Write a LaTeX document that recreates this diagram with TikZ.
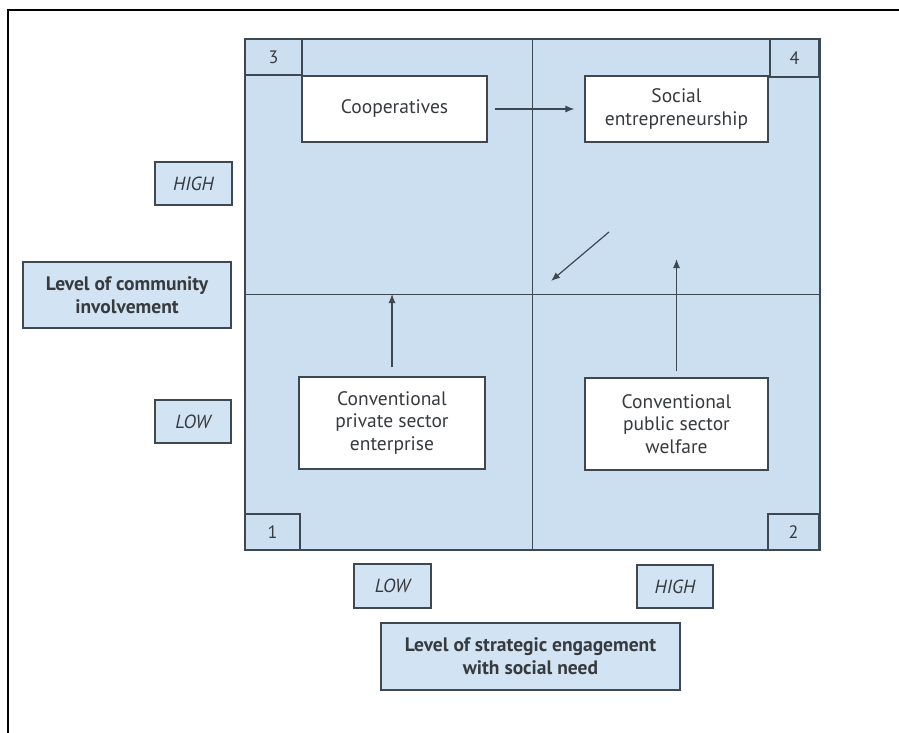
\documentclass[tikz,border=0pt]{standalone}
\usepackage{fontspec}
\setmainfont{PT Sans}
\usepackage{tikz}
\usetikzlibrary{positioning, arrows.meta, calc}
\definecolor{paleblue}{RGB}{203,223,240}
\definecolor{tagblue}{RGB}{210,228,243}
\definecolor{inkgrey}{RGB}{62,72,82}
\definecolor{txtgrey}{RGB}{55,58,62}
\tikzset{
  quadbox/.style={
    draw=inkgrey,
    line width=1.2pt,
    rectangle,
    fill=white,
    align=center,
    text=txtgrey,
    font=\fontsize{19.5}{22.5}\selectfont,
    inner sep=0pt
  },
  tagbox/.style={
    draw=inkgrey,
    line width=1.2pt,
    rectangle,
    fill=tagblue,
    align=center,
    text=txtgrey,
    font=\fontsize{19}{22.5}\selectfont\itshape,
    inner sep=0pt
  },
  titlebox/.style={
    tagbox,
    font=\fontsize{19.5}{23}\selectfont\bfseries
  },
  numbox/.style={
    draw=inkgrey,
    line width=1.2pt,
    rectangle,
    fill=paleblue,
    text=txtgrey,
    font=\fontsize{18}{20}\selectfont,
    inner sep=0pt
  },
  flow/.style={
    draw=inkgrey,
    line width=1.2pt,
    -{Latex[length=9pt,width=7pt]}
  }
}

\begin{document}
\begin{tikzpicture}[x=1pt, y=-1pt]
        \useasboundingbox (0,0) rectangle (899,733);
        \draw[line width=2pt] (8,733) -- (8,10) -- (899,10);

        % the four quadrants
        \node[draw=inkgrey, line width=1.2pt, fill=paleblue, minimum width=575pt, minimum height=511pt] (grid) at (532.5,294.5) {};
        \draw[inkgrey, line width=1.2pt] (grid.north) -- (grid.south);
        \draw[inkgrey, line width=1.2pt] (grid.west) -- (grid.east);

        \node[numbox, minimum width=57pt, minimum height=36pt] (n3) at (273.5,57) {3};
        \node[numbox, minimum width=49pt, minimum height=38pt] (n4) at (794.5,58) {4};
        \node[numbox, minimum width=55pt, minimum height=36pt] (n1) at (272.5,532) {1};
        \node[numbox, minimum width=51pt, minimum height=36pt] (n2) at (793.5,532) {2};

        \node[quadbox, minimum width=185pt, minimum height=66pt] (coop) at (394.5,109) {Cooperatives};
        \node[quadbox, minimum width=183pt, minimum height=66pt] (social) at (676.5,109) {Social\\entrepreneurship};
        \node[quadbox, minimum width=186pt, minimum height=92pt] (private) at (392,423) {Conventional\\private sector\\enterprise};
        \node[quadbox, minimum width=183pt, minimum height=92pt] (public) at (676.5,424) {Conventional\\public sector\\welfare};

        % axis labels
        \node[tagbox, minimum width=77pt, minimum height=43pt] (yhigh) at (193.5,183.5) {HIGH};
        \node[titlebox, minimum width=208pt, minimum height=66pt] (ytitle) at (127,295) {Level of community\\involvement};
        \node[tagbox, minimum width=76pt, minimum height=43pt] (ylow) at (193,421.5) {LOW};
        \node[tagbox, minimum width=77pt, minimum height=44pt] (xlow) at (392.5,586) {LOW};
        \node[tagbox, minimum width=76pt, minimum height=43pt] (xhigh) at (675,586.5) {HIGH};
        \node[titlebox, minimum width=299pt, minimum height=67pt] (xtitle) at (530.5,656.5) {Level of strategic engagement\\with social need};

        \coordinate (privtip) at (392,294);
        \coordinate (pubtip) at (676.5,259);
        \coordinate (diagfrom) at (609,232);
        \coordinate (diagto) at (551,281);

        \draw[flow, shorten <=7pt, shorten >=10pt] (coop) -- (social);
        \draw[flow, shorten <=9pt] (private) -- (privtip);
        \draw[flow, shorten <=6pt] (public) -- (pubtip);
        \draw[flow] (diagfrom) -- (diagto);
      \end{tikzpicture}
\end{document}
